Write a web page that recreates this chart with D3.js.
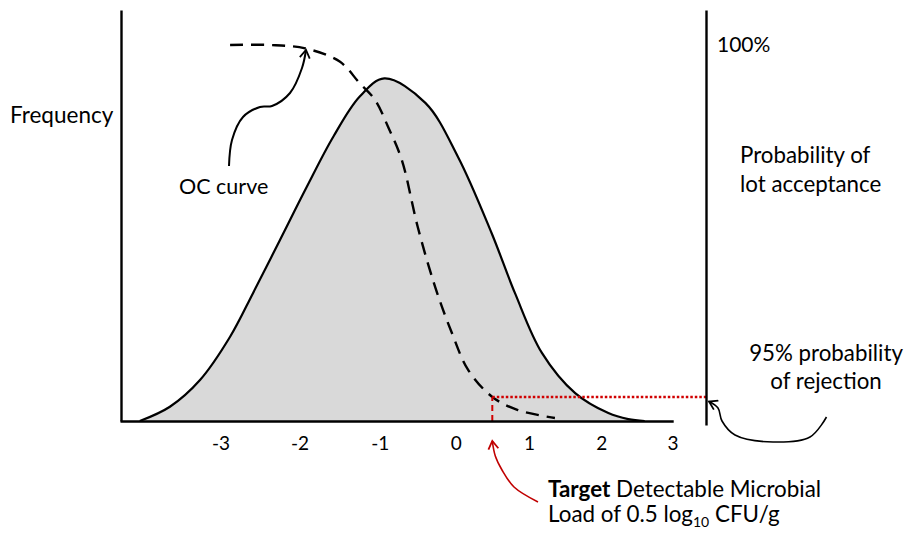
<!DOCTYPE html>
<html><head><meta charset="utf-8">
<script src="https://cdn.jsdelivr.net/npm/d3@7"></script>
<style>
html,body{margin:0;padding:0;background:#fff;}
text{font-family:Lato,"Noto Sans",sans-serif;fill:#000;}
</style></head>
<body><svg id="chart" width="904" height="534"></svg>
<script>
// ---- data (log10 CFU/g on x) ----
const xTicks = [-3, -2, -1, 0, 1, 2, 3];
// frequency distribution (relative units, 0-100)
const freqX = [-4.02, -3.64, -3.26, -2.88, -2.59, -2.25, -1.91, -1.58, -1.25, -0.94, -0.40, 0.03, 0.49, 0.81, 1.18, 1.64, 2.10, 2.38, 2.61];
const freqY = [0, 3.8, 10.9, 22.4, 34.0, 48.1, 62.3, 75.6, 86.3, 91.1, 84.6, 70.3, 50.0, 34.0, 18.1, 7.4, 2.1, 0.5, 0];
// OC curve: probability of lot acceptance (%)
const ocX = [-2.88, -2.37, -1.93, -1.50, -1.25, -1.06, -0.89, -0.71, -0.50, -0.27, -0.05, 0.17, 0.50, 0.85, 1.36];
const ocY = [100, 100, 99.1, 95.6, 89.8, 85.4, 78.2, 69.4, 51.6, 35.6, 23.4, 13.6, 6.4, 2.9, 0.8];
// target detectable load & acceptance at target (95% rejection)
const targetLoad = 0.5;
const targetAcceptance = 6.4;

const svg = d3.select("#chart");
// hand-drawn axis: tick spacing is not perfectly uniform
const x = d3.scaleLinear()
  .domain([-4.27, -3, -2, -1, 0, 1, 2, 3, 3.01])
  .range([120, 220.6, 299.6, 379.8, 455.7, 528.9, 601.2, 672.5, 673.2]);
const y = d3.scaleLinear().domain([0, 100]).range([421, 45]);
const rightX = 706;

// defs: markers
const defs = svg.append("defs");
function vMarker(id, color) {
  defs.append("marker").attr("id", id)
    .attr("viewBox", "-10 -6 12 12").attr("refX", 0).attr("refY", 0)
    .attr("markerWidth", 12).attr("markerHeight", 12)
    .attr("markerUnits", "userSpaceOnUse").attr("orient", "auto")
    .append("path").attr("d", "M-8,-5 L0,0 L-8,5")
    .attr("fill", "none").attr("stroke", color).attr("stroke-width", 1.8);
}
vMarker("arrK", "#000");
vMarker("arrR", "#c00000");

// frequency area
const freq = freqX.map((d, i) => [d, freqY[i]]);
const fCurve = d3.curveCatmullRom.alpha(0.5);
svg.append("path").datum(freq)
  .attr("d", d3.area().x(d => x(d[0])).y0(y(0)).y1(d => Math.min(y(0), y(d[1]))).curve(fCurve))
  .attr("fill", "#d9d9d9");
svg.append("path").datum(freq)
  .attr("d", d3.line().x(d => x(d[0])).y(d => y(d[1])).curve(fCurve))
  .attr("fill", "none").attr("stroke", "#000").attr("stroke-width", 2.2);

// OC curve (dashed)
const oc = ocX.map((d, i) => [d, ocY[i]]);
svg.append("path").datum(oc)
  .attr("d", d3.line().x(d => x(d[0])).y(d => y(d[1])).curve(d3.curveCatmullRom))
  .attr("fill", "none").attr("stroke", "#000").attr("stroke-width", 2.4)
  .attr("stroke-dasharray", "13,8");

// red target lines
svg.append("line")
  .attr("x1", x(targetLoad)).attr("x2", x(targetLoad))
  .attr("y1", y(0)).attr("y2", y(targetAcceptance))
  .attr("stroke", "#d00000").attr("stroke-width", 2).attr("stroke-dasharray", "6,4");
svg.append("line")
  .attr("x1", x(targetLoad)).attr("x2", rightX)
  .attr("y1", y(targetAcceptance)).attr("y2", y(targetAcceptance))
  .attr("stroke", "#d00000").attr("stroke-width", 2.5).attr("stroke-dasharray", "2.5,2");

// axes
const xAxis = svg.append("g").attr("transform", `translate(0,${y(0)})`)
  .call(d3.axisBottom(x).tickValues(xTicks).tickSize(0).tickSizeOuter(0).tickPadding(16).tickFormat(d3.format("d")));
xAxis.select(".domain").attr("stroke", "#000").attr("stroke-width", 2.6);
xAxis.selectAll("text").style("font-family", "Lato,sans-serif").style("font-size", "19px").attr("fill", "#000")
  .text(d => d < 0 ? "-" + Math.abs(d) : String(d));

const yLeft = d3.scaleLinear().domain([0, 1]).range([y(0), 10]);
const yAxis = svg.append("g").attr("transform", `translate(121,0)`)
  .call(d3.axisLeft(yLeft).tickValues([]).tickSizeOuter(0));
yAxis.select(".domain").attr("stroke", "#000").attr("stroke-width", 2.4);

const yRight = d3.scaleLinear().domain([0, 1]).range([425, 10]);
const rAxis = svg.append("g").attr("transform", `translate(${rightX},0)`)
  .call(d3.axisRight(yRight).tickValues([]).tickSizeOuter(0));
rAxis.select(".domain").attr("stroke", "#000").attr("stroke-width", 2.4);

// annotation arrows (pixel-space guide points)
const lineC = d3.line().curve(d3.curveCatmullRom);
svg.append("path")
  .attr("d", lineC([[229, 166], [232, 140], [243, 117], [260, 107], [272, 106], [290, 93], [302, 68], [306, 50]]))
  .attr("fill", "none").attr("stroke", "#000").attr("stroke-width", 2).attr("marker-end", "url(#arrK)");
const tx0 = x(targetLoad);
svg.append("path")
  .attr("d", lineC([[538, 502], [514, 487], [502, 470], [tx0 + 3, 456], [tx0, 441]]))
  .attr("fill", "none").attr("stroke", "#c00000").attr("stroke-width", 1.6).attr("marker-end", "url(#arrR)");
svg.append("path")
  .attr("d", lineC([[826.5, 417], [810, 437], [773, 442], [735, 435], [722, 421], [718, 408], [709, 401.5]]))
  .attr("fill", "none").attr("stroke", "#000").attr("stroke-width", 1.6).attr("marker-end", "url(#arrK)");

// texts
function txt(s, tx, ty, size, anchor) {
  return svg.append("text").attr("x", tx).attr("y", ty).attr("font-size", size)
    .attr("text-anchor", anchor || "start").text(s);
}
txt("Frequency", 10, 123, 22.5);
txt("100%", 717, 52, 21);
txt("Probability of", 740, 163, 22.3);
txt("lot acceptance", 740, 192, 22.3);
txt("95% probability", 826, 361, 22.3, "middle");
txt("of rejection", 826, 389, 22.3, "middle");
txt("OC curve", 179, 194, 21.5);
const t1 = svg.append("text").attr("x", 548).attr("y", 497).attr("font-size", 22.4);
t1.append("tspan").attr("font-weight", "bold").text("Target");
t1.append("tspan").text(" Detectable Microbial");
const t2 = svg.append("text").attr("x", 548).attr("y", 522).attr("font-size", 22.4);
t2.append("tspan").text("Load of 0.5 log");
t2.append("tspan").attr("font-size", 14).attr("dy", 5).text("10");
t2.append("tspan").attr("dy", -5).text(" CFU/g");
</script></body></html>
